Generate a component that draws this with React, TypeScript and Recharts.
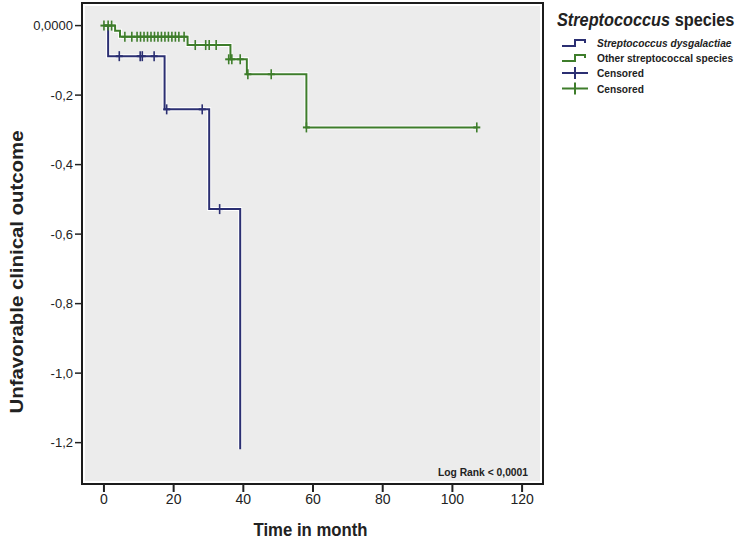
import { ComposedChart, Line, ReferenceArea, Scatter, XAxis, YAxis } from "recharts";

const FONT = "'Liberation Sans', Arial, sans-serif";
const BLUE = "#2b2f72";
const GREEN = "#3e7d2b";

const xTicks = [0, 20, 40, 60, 80, 100, 120];
const yTicks = [0, -0.2, -0.4, -0.6, -0.8, -1.0, -1.2];

// Streptococcus dysgalactiae survival steps
const dysTimes = [0, 1.2, 17.4, 30.2, 39.1];
const dysValues = [0, -0.088, -0.241, -0.528, -1.219];
const dysCensorTimes = [4.4, 10.4, 11, 14.4, 18, 28.2, 33.2];
const dysCensorValues = [-0.088, -0.088, -0.088, -0.088, -0.241, -0.241, -0.528];

// Other streptococcal species survival steps
const otherTimes = [0, 3.2, 4.6, 24, 36.3, 41, 58.1, 107];
const otherValues = [0, -0.015, -0.032, -0.056, -0.097, -0.14, -0.293, -0.293];
const otherCensorTimes = [
  0, 1.2, 2.2,
  6, 8, 9.5, 10.5, 11.5, 12.5, 13.5, 14.5, 15.5, 16.5, 17.5, 18.5, 19.5, 20.5, 21.5, 23,
  26.2, 29.2, 30.2, 32.2,
  35.8, 36.7, 39.1,
  41.3, 48,
  58.1, 107,
];
const otherCensorValues = [
  0, 0, 0,
  -0.032, -0.032, -0.032, -0.032, -0.032, -0.032, -0.032, -0.032, -0.032, -0.032, -0.032, -0.032, -0.032, -0.032, -0.032, -0.032,
  -0.056, -0.056, -0.056, -0.056,
  -0.097, -0.097, -0.097,
  -0.14, -0.14,
  -0.293, -0.293,
];

const zip = (ts: number[], vs: number[]) => ts.map((t, i) => ({ t, v: vs[i] }));
const dysData = zip(dysTimes, dysValues);
const otherData = zip(otherTimes, otherValues);
const dysCensor = zip(dysCensorTimes, dysCensorValues);
const otherCensor = zip(otherCensorTimes, otherCensorValues);

const fmtY = (v: number) => (v === 0 ? "0,0000" : v.toFixed(1).replace(".", ","));

const censorShape = (color: string) => (props: any) => {
  const { cx, cy } = props;
  if (cx == null || cy == null) return <g />;
  return (
    <g>
      <line x1={cx - 3.5} x2={cx + 3.5} y1={cy} y2={cy} stroke={color} strokeWidth={2} />
      <line x1={cx} x2={cx} y1={cy - 5} y2={cy + 5} stroke={color} strokeWidth={1.6} />
    </g>
  );
};

function LegendBox() {
  const step = (y: number, color: string) => (
    <path d={`M562 ${y + 3} H575 V${y - 3} H585 V${y}`} fill="none" stroke={color} strokeWidth={2} />
  );
  const cross = (y: number, color: string) => (
    <g>
      <line x1={562} x2={588} y1={y} y2={y} stroke={color} strokeWidth={2} />
      <line x1={575} x2={575} y1={y - 6} y2={y + 6} stroke={color} strokeWidth={2} />
    </g>
  );
  const entry = (y: number, label: string, italic = false) => (
    <g transform={`translate(597 ${y}) scale(0.885 1)`}>
      <text x={0} y={0} fontFamily={FONT} fontSize={11.5} fontWeight={700} fill="#222" fontStyle={italic ? "italic" : "normal"}>
        {label}
      </text>
    </g>
  );
  return (
    <svg width={738} height={120} style={{ position: "absolute", left: 0, top: 0, pointerEvents: "none" }}>
      <g transform="translate(557 26) scale(0.905 1)">
        <text x={0} y={0} fontFamily={FONT} fontSize={18} fontWeight={700} fill="#222">
          <tspan fontStyle="italic">Streptococcus</tspan> species
        </text>
      </g>
      {step(43, BLUE)}
      {entry(47, "Streptococcus dysgalactiae", true)}
      {step(58, GREEN)}
      {entry(62, "Other streptococcal species")}
      {cross(73, BLUE)}
      {entry(77, "Censored")}
      {cross(88.5, GREEN)}
      {entry(92.5, "Censored")}
    </svg>
  );
}

export default function App() {
  return (
    <div style={{ position: "absolute", left: 0, top: 0, width: 738, height: 544, background: "#fff" }}>
      <ComposedChart width={738} height={544} margin={{ top: 3, right: 195, bottom: 0, left: 0 }}>
        <XAxis
          dataKey="t"
          type="number"
          domain={[-6.3, 126]}
          ticks={xTicks}
          allowDataOverflow
          height={60}
          axisLine={false}
          tickLine={{ stroke: "#222", strokeWidth: 2 }}
          tickSize={8}
          tick={{ fill: "#222", fontSize: 14, fontFamily: FONT }}
          label={{
            content: (p: any) => {
              const vb = p.viewBox;
              return (
                <text x={vb.x + vb.width / 2 - 2} y={536} textAnchor="middle" fontFamily={FONT} fontSize={19} fontWeight={700} fill="#222" textLength={114} lengthAdjust="spacingAndGlyphs">
                  Time in month
                </text>
              );
            },
          }}
        />
        <YAxis
          dataKey="v"
          type="number"
          domain={[-1.319, 0.065]}
          ticks={yTicks}
          allowDataOverflow
          width={82}
          axisLine={false}
          tickLine={{ stroke: "#222", strokeWidth: 1.5 }}
          tickSize={7}
          tickFormatter={fmtY}
          tick={{ fill: "#222", fontSize: 13, fontFamily: FONT }}
          label={{
            content: () => (
              <text x={23} y={272} transform="rotate(-90 23 272)" textAnchor="middle" fontFamily={FONT} fontSize={19} fontWeight={700} fill="#222" textLength={283} lengthAdjust="spacingAndGlyphs">
                Unfavorable clinical outcome
              </text>
            ),
          }}
        />
        <ReferenceArea x1={-6.3} x2={126} y1={-1.319} y2={0.065} fill="#ececec" fillOpacity={1} stroke="#fff" strokeWidth={6} ifOverflow="visible" />
        <ReferenceArea
          x1={-6.3}
          x2={126}
          y1={-1.319}
          y2={0.065}
          fill="none"
          stroke="#1c1c1c"
          strokeWidth={2}
          ifOverflow="visible"
          label={{
            content: (p: any) => {
              const vb = p.viewBox;
              return (
                <text x={vb.x + vb.width - 15} y={vb.y + vb.height - 8} textAnchor="end" fontFamily={FONT} fontSize={11} fontWeight={700} fill="#222" textLength={90} lengthAdjust="spacingAndGlyphs">
                  Log Rank &lt; 0,0001
                </text>
              );
            },
          }}
        />
        <Line data={dysData} dataKey="v" type="stepAfter" stroke="#fff" strokeWidth={4} dot={false} activeDot={false} isAnimationActive={false} />
        <Line data={otherData} dataKey="v" type="stepAfter" stroke="#fff" strokeWidth={4} dot={false} activeDot={false} isAnimationActive={false} />
        <Line data={dysData} dataKey="v" type="stepAfter" stroke={BLUE} strokeWidth={2} dot={false} activeDot={false} isAnimationActive={false} />
        <Line data={otherData} dataKey="v" type="stepAfter" stroke={GREEN} strokeWidth={2} dot={false} activeDot={false} isAnimationActive={false} />
        <Scatter data={dysCensor} dataKey="v" shape={censorShape(BLUE)} isAnimationActive={false} />
        <Scatter data={otherCensor} dataKey="v" shape={censorShape(GREEN)} isAnimationActive={false} />
      </ComposedChart>
      <LegendBox />
    </div>
  );
}
